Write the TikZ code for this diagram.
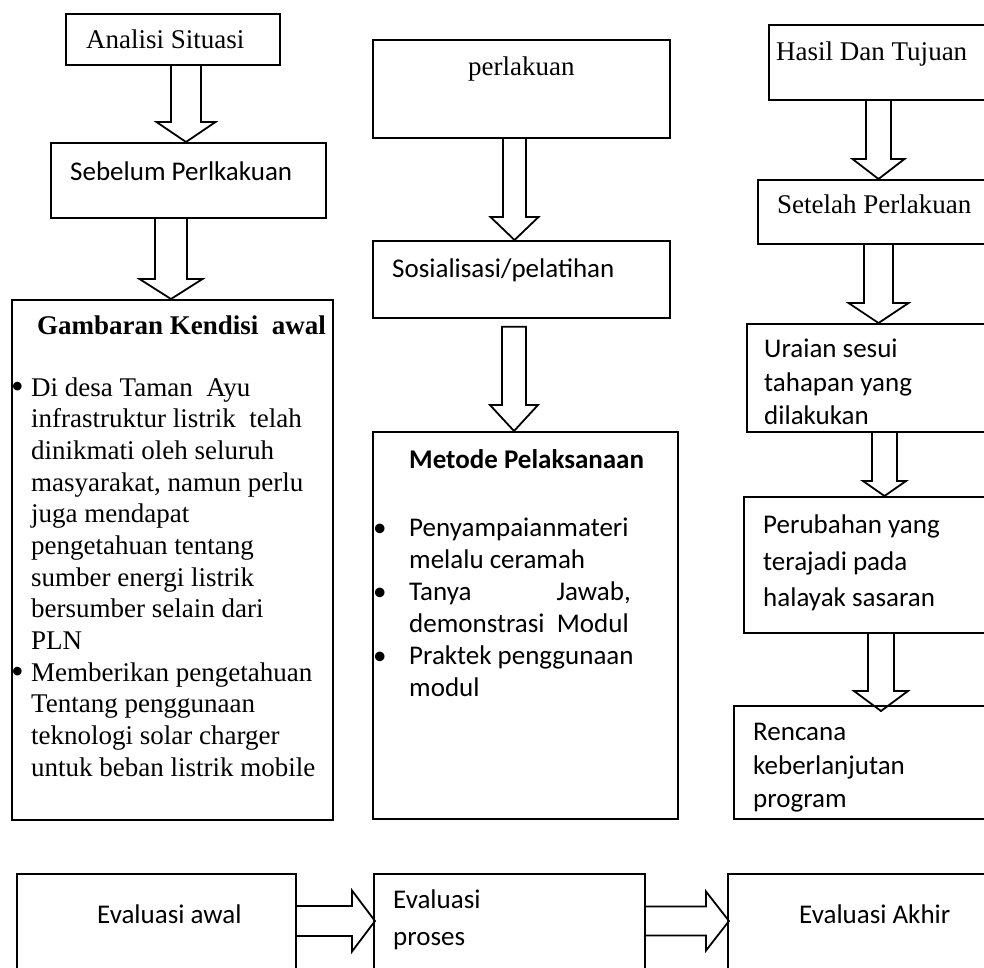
\documentclass[tikz,border=0pt]{standalone}
\usepackage{fontspec}
\setmainfont{Liberation Serif}
\newfontfamily\calfont{Carlito}
\usetikzlibrary{calc}
\tikzset{
  box/.style={draw, line width=1.8pt, rectangle, inner sep=0pt, anchor=north west},
  blk/.style={draw, line width=1.8pt, line join=miter},
  ts/.style={anchor=base west, inner sep=0pt, font=\fontsize{27}{31}\selectfont},
  tsb/.style={anchor=base west, inner sep=0pt, font=\bfseries\fontsize{27}{31}\selectfont},
  tc/.style={anchor=base west, inner sep=0pt, font=\calfont\fontsize{27}{31}\selectfont},
  tcb/.style={anchor=base west, inner sep=0pt, font=\calfont\bfseries\fontsize{27}{31}\selectfont},
  bul/.style={anchor=base west, inner sep=0pt, font=\fontsize{36}{36}\selectfont},
}
\newcommand\bx[5]{\node[box, minimum width=#4pt-#2pt, minimum height=#5pt-#3pt] (#1) at (#2,#3) {};}
% vertical block arrow: src, dst, x centre, shaft half, head half, head length, overshoot
\newcommand\vblk[7]{%
  \draw[blk] let \p1=(#1.south), \p2=(#2.north) in
  (#3pt-#4pt,\y1) -- (#3pt-#4pt,\y2+#6pt-#7pt) -- (#3pt-#5pt,\y2+#6pt-#7pt) -- (#3pt,\y2-#7pt)
  -- (#3pt+#5pt,\y2+#6pt-#7pt) -- (#3pt+#4pt,\y2+#6pt-#7pt) -- (#3pt+#4pt,\y1);}
% horizontal block arrow: src, dst, y centre, shaft half, head half, head length
\newcommand\hblk[6]{%
  \draw[blk] let \p1=(#1.east), \p2=(#2.west) in
  (\x1,-#3pt+#4pt) -- (\x2-#6pt,-#3pt+#4pt) -- (\x2-#6pt,-#3pt+#5pt) -- (\x2+2pt,-#3pt)
  -- (\x2-#6pt,-#3pt-#5pt) -- (\x2-#6pt,-#3pt-#4pt) -- (\x1,-#3pt-#4pt);}
\begin{document}
\begin{tikzpicture}[x=1pt,y=-1pt]
\useasboundingbox (0,0) rectangle (984,967);
\clip (0,0) rectangle (984,967);

% ---------- left column
\bx{ana}{65}{13}{279}{64}
\node[ts] (tana) at (86,48) {Analisi Situasi};
\bx{seb}{50}{142}{325}{217}
\node[tc] (tseb) at (70,180) {Sebelum Perlkakuan};
\bx{gam}{11}{299}{332}{819}
\node[tsb] (tgam) at (37,334) {Gambaran Kendisi\ \ awal};
\node[bul] (bg1) at (11,398) {•};
\node[bul] (bg2) at (11,683) {•};
\foreach \t [count=\i from 0] in {Di desa Taman\ \ Ayu, infrastruktur listrik\ \ telah, dinikmati oleh seluruh,
  {masyarakat, namun perlu}, juga mendapat, pengetahuan tentang, sumber energi listrik, bersumber selain dari, PLN,
  Memberikan pengetahuan, Tentang penggunaan, teknologi solar charger, untuk beban listrik mobile}
  \node[ts] (g\i) at (31,396+31.67*\i) {\t};

% ---------- middle column
\bx{per}{372}{39}{669}{137}
\node[ts] (tper) at (468,75) {perlakuan};
\bx{sos}{372}{240}{669}{317}
\node[tc] (tsos) at (392,277) {Sosialisasi/pelatihan};
\bx{met}{372}{431}{677}{818}
\node[tcb] (tmet) at (409,468) {Metode Pelaksanaan};
\node[tc] (bm1) at (373,536) {•};
\node[tc] (bm2) at (373,600) {•};
\node[tc] (bm3) at (373,664) {•};
\node[tc] (m0) at (409,536) {Penyampaianmateri};
\node[tc] (m1) at (409,568) {melalu ceramah};
\node[tc] (m2) at (409,600) {Tanya};
\node[tc, anchor=base east] (m2b) at (631,600) {Jawab,};
\node[tc] (m3) at (409,632) {demonstrasi\ \ Modul};
\node[tc] (m4) at (409,664) {Praktek penggunaan};
\node[tc] (m5) at (409,696) {modul};

% ---------- right column
\bx{has}{768}{24}{1000}{99}
\node[ts] (thas) at (776,60) {Hasil Dan Tujuan};
\bx{set}{757}{179}{1000}{243}
\node[ts] (tset) at (777,213) {Setelah Perlakuan};
\bx{ura}{746}{323}{1000}{431}
\node[tc] (u0) at (764,357) {Uraian sesui};
\node[tc] (u1) at (764,391) {tahapan yang};
\node[tc] (u2) at (764,424) {dilakukan};
\bx{pru}{743}{496}{1000}{632}
\node[tc] (p0) at (763,533) {Perubahan yang};
\node[tc] (p1) at (763,570) {terajadi pada};
\node[tc] (p2) at (763,606) {halayak sasaran};
\bx{ren}{733}{705}{1000}{818}
\node[tc] (r0) at (753,740) {Rencana};
\node[tc] (r1) at (753,774) {keberlanjutan};
\node[tc] (r2) at (753,807) {program};

% ---------- bottom row
\bx{ev1}{16}{873}{295}{1000}
\node[tc] (te1) at (97,923) {Evaluasi awal};
\bx{ev2}{373}{873}{644}{1000}
\node[tc] (te2a) at (393,908) {Evaluasi};
\node[tc] (te2b) at (393,945) {proses};
\bx{ev3}{727}{873}{1000}{1000}
\node[tc] (te3) at (799,923) {Evaluasi Akhir};

% ---------- block arrows
\vblk{ana}{seb}{186}{15}{29.5}{20}{0}
\vblk{seb}{gam}{171}{16}{31.5}{20}{0}
\vblk{per}{sos}{514.5}{11.5}{24}{23}{0}
\draw[blk] let \p1=(sos.south), \p2=(met.north) in
  (502pt,\y1-8pt) -- (502pt,\y2+26pt) -- (490pt,\y2+26pt) -- (514pt,\y2) -- (538pt,\y2+26pt)
  -- (526pt,\y2+26pt) -- (526pt,\y1-8pt) -- cycle;
\vblk{has}{set}{878.5}{12.5}{26}{20}{0}
\vblk{set}{ura}{878.5}{14.5}{30}{20}{0}
\vblk{ura}{pru}{884.5}{12.5}{21.5}{15}{0}
\vblk{pru}{ren}{881}{13}{27}{20}{6}
\hblk{ev1}{ev2}{921}{15}{30.5}{21}
\hblk{ev2}{ev3}{921}{14.5}{29.5}{21}
\end{tikzpicture}
\end{document}
